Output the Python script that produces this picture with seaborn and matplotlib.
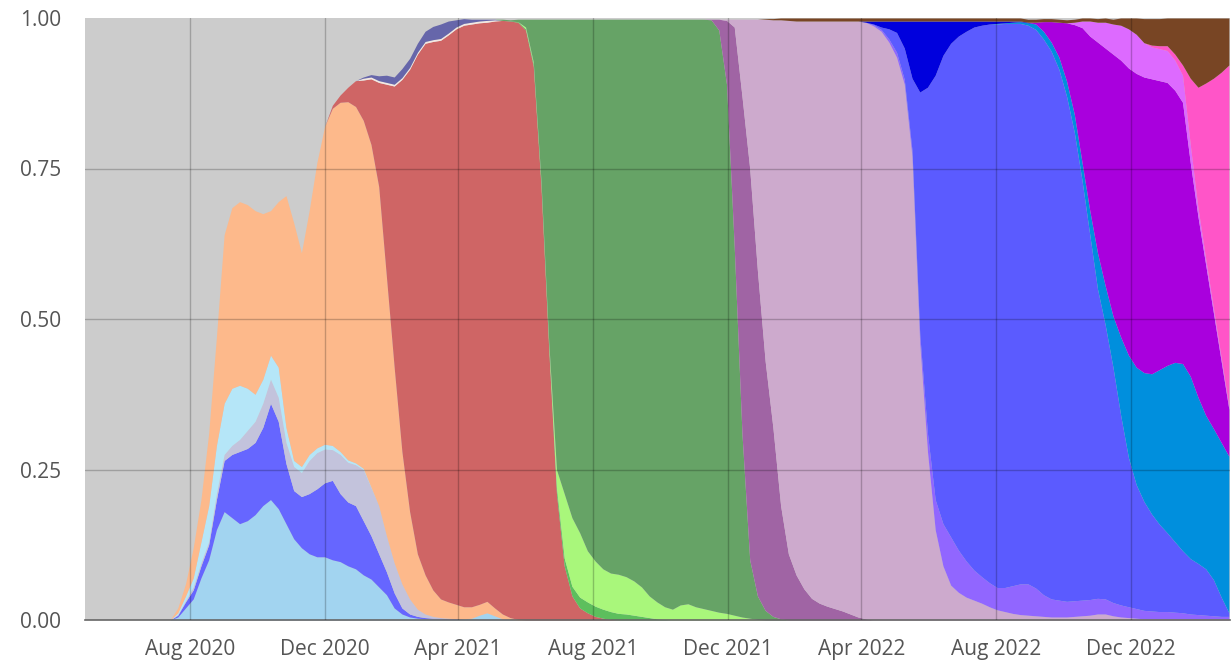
import numpy as np
import pandas as pd
import matplotlib
matplotlib.use("Agg")
import matplotlib.pyplot as plt
import matplotlib.dates as mdates
from matplotlib.ticker import FormatStrFormatter
import seaborn as sns

# Weekly sampling dates shared by every lineage
weeks = pd.date_range("2020-04-28", periods=149, freq="7D")

# Weekly frequency of each lineage: index of its first week, then its shares
lightblue_start = 12
lightblue = [0.005, 0.02, 0.035, 0.07, 0.10, 0.15, 0.18, 0.17, 0.16, 0.165, 0.175, 0.19, 0.20, 0.185,
             0.16, 0.135, 0.12, 0.11, 0.105, 0.105, 0.10, 0.097, 0.09, 0.085, 0.075, 0.068, 0.055,
             0.042, 0.02, 0.01, 0.005, 0.003, 0.002, 0.002, 0.002, 0.001, 0.001, 0.002, 0.003,
             0.008, 0.012, 0.007, 0.002, 0.001]

blue_start = 12
blue = [0.003, 0.01, 0.015, 0.02, 0.025, 0.05, 0.085, 0.105, 0.12, 0.12, 0.12, 0.13, 0.16, 0.145,
        0.10, 0.08, 0.085, 0.10, 0.113, 0.123, 0.132, 0.113, 0.106, 0.105, 0.09, 0.072, 0.055,
        0.038, 0.025, 0.01, 0.005, 0.003, 0.002, 0.001, 0.001, 0.001, 0.001]

lavgray_start = 12
lavgray = [0.001, 0.002, 0.005, 0.005, 0.005, 0.01, 0.01, 0.015, 0.02, 0.03, 0.035, 0.04, 0.04,
           0.04, 0.035, 0.04, 0.04, 0.055, 0.06, 0.056, 0.051, 0.065, 0.066, 0.068, 0.085, 0.08,
           0.08, 0.06, 0.05, 0.04, 0.025, 0.012, 0.006, 0.003, 0.001, 0.001]

paleblue_start = 12
paleblue = [0.003, 0.008, 0.015, 0.035, 0.06, 0.08, 0.085, 0.095, 0.09, 0.07, 0.045, 0.04, 0.04,
            0.05, 0.025, 0.01, 0.01, 0.01, 0.008, 0.008, 0.007, 0.005, 0.004, 0.003, 0.002, 0.001]

peach_start = 12
peach = [0.008, 0.02, 0.05, 0.07, 0.12, 0.18, 0.28, 0.30, 0.305, 0.305, 0.305, 0.275, 0.24, 0.275,
         0.385, 0.395, 0.355, 0.405, 0.474, 0.528, 0.56, 0.58, 0.595, 0.592, 0.578, 0.569, 0.53,
         0.43, 0.325, 0.22, 0.145, 0.092, 0.065, 0.044, 0.031, 0.027, 0.024, 0.02, 0.019, 0.018,
         0.019, 0.013, 0.008, 0.003, 0.001]

red_start = 32
red = [0.005, 0.012, 0.024, 0.043, 0.067, 0.109, 0.173, 0.32, 0.467, 0.618, 0.735, 0.83, 0.883,
       0.911, 0.928, 0.942, 0.956, 0.966, 0.968, 0.966, 0.962, 0.975, 0.986, 0.991, 0.992, 0.98,
       0.92, 0.72, 0.45, 0.21, 0.09, 0.04, 0.02, 0.012, 0.006, 0.003, 0.001]

cream_start = 36
cream = [0.003, 0.003, 0.003, 0.003, 0.003, 0.003, 0.003, 0.003, 0.003, 0.003, 0.003, 0.003,
         0.003, 0.003, 0.003, 0.003, 0.003, 0.002]

slate_start = 36
slate = [0.002, 0.004, 0.008, 0.012, 0.012, 0.015, 0.015, 0.015, 0.017, 0.022, 0.024, 0.02, 0.012,
         0.008, 0.005, 0.003, 0.002, 0.001]

midgreen_start = 56
midgreen = [0.001, 0.002, 0.004, 0.006, 0.008, 0.01, 0.013, 0.016, 0.018, 0.018, 0.017, 0.015,
            0.013, 0.011, 0.01, 0.008, 0.006, 0.004, 0.002, 0.001]

lime_start = 57
lime = [0.003, 0.003, 0.003, 0.004, 0.03, 0.107, 0.114, 0.107, 0.085, 0.075, 0.067, 0.064, 0.065,
        0.062, 0.057, 0.049, 0.036, 0.028, 0.021, 0.018, 0.025, 0.027, 0.022, 0.019, 0.016, 0.013,
        0.011, 0.008, 0.005, 0.003, 0.001]

green_start = 54
green = [0.002, 0.002, 0.004, 0.013, 0.071, 0.269, 0.536, 0.748, 0.788, 0.828, 0.853, 0.883, 0.90,
         0.913, 0.92, 0.922, 0.926, 0.933, 0.943, 0.958, 0.968, 0.976, 0.98, 0.973, 0.971, 0.976,
         0.979, 0.981, 0.967, 0.879, 0.612, 0.305, 0.097, 0.039, 0.016, 0.006, 0.002]

plum_start = 81
plum = [0.001, 0.018, 0.106, 0.365, 0.56, 0.65, 0.54, 0.414, 0.314, 0.188, 0.11, 0.075, 0.052,
        0.036, 0.028, 0.023, 0.019, 0.015, 0.01, 0.005, 0.002]

lilac_start = 83
lilac = [0.002, 0.013, 0.128, 0.248, 0.418, 0.568, 0.677, 0.807, 0.886, 0.92, 0.943, 0.959, 0.967,
         0.972, 0.976, 0.98, 0.985, 0.99, 0.991, 0.987, 0.978, 0.96, 0.935, 0.89, 0.77, 0.46, 0.28,
         0.15, 0.09, 0.058, 0.046, 0.038, 0.033, 0.028, 0.022, 0.017, 0.014, 0.011, 0.009, 0.008,
         0.007, 0.006, 0.005, 0.005, 0.005, 0.006, 0.007, 0.008, 0.01, 0.01, 0.007, 0.005, 0.004,
         0.003, 0.002, 0.002, 0.002, 0.002, 0.002, 0.002, 0.002, 0.002, 0.002, 0.002, 0.002, 0.002]

violet_start = 102
violet = [0.002, 0.003, 0.005, 0.008, 0.008, 0.01, 0.015, 0.03, 0.05, 0.07, 0.08, 0.07, 0.06, 0.05,
          0.044, 0.04, 0.037, 0.04, 0.046, 0.051, 0.052, 0.046, 0.036, 0.03, 0.028, 0.026, 0.026,
          0.026, 0.026, 0.026, 0.025, 0.022, 0.02, 0.018, 0.016, 0.014, 0.013, 0.012, 0.012, 0.011,
          0.010, 0.008, 0.007, 0.006, 0.005, 0.004, 0.004]

royal_start = 102
royal = [0.001, 0.004, 0.017, 0.033, 0.052, 0.12, 0.402, 0.575, 0.705, 0.778, 0.82, 0.854, 0.88,
         0.902, 0.916, 0.928, 0.936, 0.937, 0.934, 0.931, 0.928, 0.928, 0.923, 0.91, 0.882, 0.839,
         0.778, 0.697, 0.606, 0.514, 0.455, 0.391, 0.315, 0.248, 0.206, 0.181, 0.161, 0.145, 0.131,
         0.117, 0.103, 0.092, 0.085, 0.077, 0.06, 0.032, 0.006]

azure_start = 118
azure = [0.001, 0.001, 0.002, 0.003, 0.004, 0.009, 0.013, 0.015, 0.02, 0.025, 0.03, 0.03, 0.04,
         0.06, 0.065, 0.085, 0.13, 0.17, 0.195, 0.214, 0.233, 0.257, 0.278, 0.298, 0.311, 0.303,
         0.276, 0.255, 0.251, 0.257, 0.26]

navy_start = 101
navy = [0.002, 0.005, 0.01, 0.013, 0.019, 0.045, 0.095, 0.118, 0.11, 0.09, 0.057, 0.037, 0.025,
        0.017, 0.01, 0.007, 0.005, 0.004, 0.003, 0.002, 0.001, 0.001]

magenta_start = 123
magenta = [0.003, 0.016, 0.034, 0.058, 0.097, 0.149, 0.224, 0.29, 0.35, 0.395, 0.435, 0.46, 0.477,
           0.488, 0.491, 0.49, 0.48, 0.47, 0.452, 0.434, 0.355, 0.30, 0.25, 0.192, 0.135, 0.078]

orchid_start = 128
orchid = [0.004, 0.011, 0.025, 0.033, 0.043, 0.05, 0.058, 0.065, 0.065, 0.057, 0.053, 0.053, 0.053,
          0.05, 0.045, 0.03, 0.015, 0.01, 0.008, 0.006, 0.005]

pink_start = 138
pink = [0.003, 0.005, 0.008, 0.01, 0.017, 0.11, 0.20, 0.292, 0.382, 0.474, 0.567]

brown_start = 88
brown = [0.001, 0.002, 0.003, 0.004,
         0.005, 0.005, 0.005, 0.005, 0.005, 0.005, 0.005, 0.005, 0.005, 0.005, 0.005, 0.005, 0.005,
         0.005, 0.005, 0.005, 0.005, 0.005, 0.005, 0.005, 0.005, 0.005, 0.005, 0.005, 0.005, 0.005,
         0.005, 0.005, 0.005, 0.005, 0.005, 0.005, 0.005, 0.005, 0.005, 0.005, 0.005, 0.005, 0.005,
         0.006, 0.007, 0.008, 0.012, 0.018, 0.027, 0.04, 0.044, 0.045, 0.046, 0.06, 0.078, 0.10,
         0.115, 0.108, 0.10, 0.09, 0.078]

# Stack order (bottom to top) with fill colours
layers = [
    ("lightblue", lightblue_start, lightblue, "#a2d4f0"),
    ("blue", blue_start, blue, "#6666ff"),
    ("lavgray", lavgray_start, lavgray, "#c3c3dc"),
    ("paleblue", paleblue_start, paleblue, "#b5e6f8"),
    ("peach", peach_start, peach, "#fdb98b"),
    ("red", red_start, red, "#cf6565"),
    ("cream", cream_start, cream, "#f3e8e2"),
    ("slate", slate_start, slate, "#6666aa"),
    ("midgreen", midgreen_start, midgreen, "#5dbf5d"),
    ("lime", lime_start, lime, "#a9f77b"),
    ("green", green_start, green, "#66a366"),
    ("plum", plum_start, plum, "#a064a4"),
    ("lilac", lilac_start, lilac, "#cdaacd"),
    ("violet", violet_start, violet, "#9166ff"),
    ("royal", royal_start, royal, "#5b5bff"),
    ("azure", azure_start, azure, "#008fdd"),
    ("navy", navy_start, navy, "#0000dd"),
    ("magenta", magenta_start, magenta, "#a900dd"),
    ("orchid", orchid_start, orchid, "#dd6aff"),
    ("pink", pink_start, pink, "#ff55c8"),
    ("brown", brown_start, brown, "#784524"),
]

freq = pd.DataFrame(index=weeks)
for name, start, vals, _ in layers:
    col = np.zeros(len(weeks))
    col[start:start + len(vals)] = vals
    freq[name] = col

sns.set_theme(style="white")
plt.rcParams["font.family"] = ["Open Sans", "DejaVu Sans"]

fig = plt.figure(figsize=(12.32, 6.65), dpi=100)
ax = fig.add_axes([85 / 1232, 45 / 665, 1145 / 1232, 602 / 665])
ax.set_facecolor("#cccccc")

ax.stackplot(freq.index, *[freq[name] for name, *_ in layers],
             colors=[c for *_, c in layers], linewidth=0)

ax.set_xlim(pd.Timestamp("2020-04-28"), pd.Timestamp("2023-03-01"))
ax.set_ylim(0, 1)
ax.xaxis.set_major_locator(mdates.MonthLocator(bymonth=[4, 8, 12]))
ax.xaxis.set_major_formatter(mdates.DateFormatter("%b %Y"))
ax.set_yticks([0, 0.25, 0.5, 0.75, 1.0])
ax.yaxis.set_major_formatter(FormatStrFormatter("%.2f"))

ax.grid(axis="x", color="black", alpha=0.22, linewidth=1)
for yv in [0.25, 0.5, 0.75]:
    ax.axhline(yv, color="black", alpha=0.22, linewidth=1, zorder=3)
ax.set_axisbelow(False)

for side in ["top", "right", "left"]:
    ax.spines[side].set_visible(False)
ax.spines["bottom"].set_color("#666666")
ax.spines["bottom"].set_linewidth(1.2)

ax.tick_params(axis="x", length=8, width=1, color="#666666", labelsize=15,
               labelcolor="#555555", pad=6)
ax.tick_params(axis="y", length=11, width=1, color="#999999", labelsize=15,
               labelcolor="#555555", pad=6)
ax.set_xlabel("")
ax.set_ylabel("")

fig.savefig("out.png", dpi=100)
